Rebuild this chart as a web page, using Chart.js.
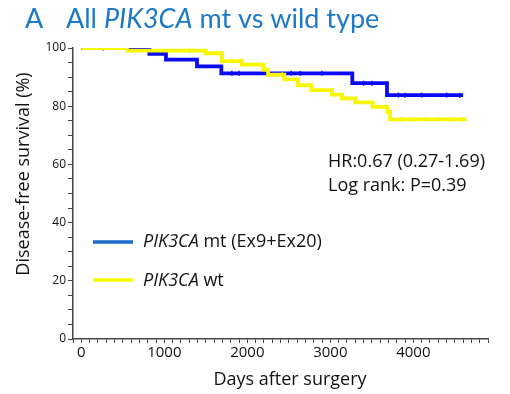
<!DOCTYPE html>
<html>
<head>
<meta charset="utf-8">
<script src="https://cdn.jsdelivr.net/npm/chart.js@4"></script>
<style>
  html, body { margin: 0; padding: 0; background: #fff; }
  #wrap { width: 510px; height: 394px; position: relative; }
</style>
</head>
<body>
<div id="wrap"><canvas id="kmChart"></canvas></div>
<script>
// Kaplan-Meier step points (days, survival %)
const mtDays = [0, 820, 1020, 1394, 1687, 3265, 3683, 4600];
const mtSurv = [100, 98, 96, 93.7, 91.3, 87.9, 83.8, 83.8];
const wtDays = [0, 550, 1494, 1695, 1936, 2193, 2250, 2446, 2611, 2771, 3020, 3140, 3300, 3510, 3690, 3720, 4640];
const wtSurv = [100, 99.1, 98.2, 95.5, 94.3, 92.6, 90.8, 89.2, 87.2, 85.5, 84, 82.7, 81.3, 79.8, 78, 75.5, 75.5];

// censor marks
const mtCensorDays = [265, 1815, 1900, 2530, 2640, 2900, 3400, 3500, 3820, 3900, 4100, 4400, 4560];
const mtCensorSurv = [100, 91.3, 91.3, 91.3, 91.3, 91.3, 87.9, 87.9, 83.8, 83.8, 83.8, 83.8, 83.8];
const wtCensorDays = [450, 1300, 1815, 1915, 2420, 3200, 3850, 4000, 4150, 4300, 4450, 4600];
const wtCensorSurv = [100, 99.1, 95.5, 95.5, 90.8, 82.7, 75.5, 75.5, 75.5, 75.5, 75.5, 75.5];

const yTicks = [0, 20, 40, 60, 80, 100];
const xTicks = [0, 1000, 2000, 3000, 4000];

const plotBlue = '#0a0af5';
const plotYellow = '#f7f700';
const legendBlue = '#1b6cc6';
const titleBlue = '#1d79c6';
const txtFont = '"Open Sans", Lato, sans-serif';
const titleFont = 'Lato, "Open Sans", sans-serif';

function toPoints(xs, ys) {
    return xs.map((x, i) => ({ x: x, y: ys[i] }));
}

// draw a string made of normal / italic pieces
function drawRich(ctx, parts, x, y, size, family, color) {
    ctx.fillStyle = color;
    ctx.textBaseline = 'middle';
    ctx.textAlign = 'left';
    parts.forEach(p => {
        ctx.font = (p.italic ? 'italic ' : '') + size + 'px ' + family;
        ctx.fillText(p.t, x, y);
        x += ctx.measureText(p.t).width;
    });
}

const textPlugin = {
    id: 'kmText',
    afterDraw(chart) {
        const ctx = chart.ctx;
        ctx.save();
        // title
        drawRich(ctx, [{ t: 'A' }], 25, 19, 27, titleFont, titleBlue);
        drawRich(ctx, [{ t: 'All ' }, { t: 'PIK3CA', italic: true }, { t: ' mt vs wild type' }], 66, 19, 27, titleFont, titleBlue);

        // axis titles
        ctx.fillStyle = '#111';
        ctx.font = '18px ' + txtFont;
        ctx.textAlign = 'center';
        ctx.textBaseline = 'middle';
        ctx.fillText('Days after surgery', 290, 380);
        ctx.save();
        ctx.translate(24, 174);
        ctx.rotate(-Math.PI / 2);
        ctx.fillText('Disease-free survival (%)', 0, 0);
        ctx.restore();

        // legend
        ctx.lineWidth = 3.5;
        ctx.strokeStyle = legendBlue;
        ctx.beginPath(); ctx.moveTo(93, 242); ctx.lineTo(133, 242); ctx.stroke();
        ctx.strokeStyle = plotYellow;
        ctx.beginPath(); ctx.moveTo(93, 280); ctx.lineTo(133, 280); ctx.stroke();
        drawRich(ctx, [{ t: 'PIK3CA', italic: true }, { t: ' mt (Ex9+Ex20)' }], 143, 242, 18, txtFont, '#111');
        drawRich(ctx, [{ t: 'PIK3CA', italic: true }, { t: ' wt' }], 143, 281, 18, txtFont, '#111');

        // stats
        drawRich(ctx, [{ t: 'HR:0.67 (0.27-1.69)' }], 328, 162, 18, txtFont, '#111');
        drawRich(ctx, [{ t: 'Log rank: P=0.39' }], 328, 186, 18, txtFont, '#111');
        ctx.restore();
    }
};

const censorStyle = {
    showLine: false,
    pointStyle: 'line',
    rotation: 90,
    pointRadius: 2.5,
    pointBorderWidth: 1.5
};

new Chart(document.getElementById('kmChart'), {
    type: 'line',
    data: {
        datasets: [
            Object.assign({ data: toPoints(wtCensorDays, wtCensorSurv), borderColor: plotYellow, backgroundColor: plotYellow }, censorStyle),
            {
                label: 'PIK3CA wt',
                data: toPoints(wtDays, wtSurv),
                borderColor: plotYellow,
                borderWidth: 3.8,
                stepped: 'before',
                pointRadius: 0,
                fill: false
            },
            Object.assign({ data: toPoints(mtCensorDays, mtCensorSurv), borderColor: plotBlue, backgroundColor: plotBlue }, censorStyle),
            {
                label: 'PIK3CA mt (Ex9+Ex20)',
                data: toPoints(mtDays, mtSurv),
                borderColor: plotBlue,
                borderWidth: 3.8,
                stepped: 'before',
                pointRadius: 0,
                fill: false
            }
        ]
    },
    options: {
        responsive: true,
        maintainAspectRatio: false,
        animation: false,
        layout: { padding: { top: 48, right: 22, left: 0, bottom: 0 } },
        plugins: {
            legend: { display: false },
            tooltip: { enabled: false }
        },
        scales: {
            x: {
                type: 'linear',
                min: -100,
                max: 4900,
                afterFit: s => { s.height = 55; },
                afterBuildTicks: s => {
                    const t = [];
                    for (let v = -100; v <= 4900; v += 100) t.push({ value: v });
                    s.ticks = t;
                },
                ticks: {
                    autoSkip: false,
                    maxRotation: 0,
                    padding: 1,
                    color: '#111',
                    font: { family: txtFont, size: 15 },
                    callback: v => xTicks.includes(v) ? String(v) : ''
                },
                grid: { drawOnChartArea: false, tickLength: 4, tickColor: '#444' },
                border: { color: '#444', width: 1.5 }
            },
            y: {
                min: 0,
                max: 100,
                afterFit: s => { s.width = 73; },
                afterBuildTicks: s => {
                    const t = [];
                    for (let v = 0; v <= 100; v += 5) t.push({ value: v });
                    s.ticks = t;
                },
                ticks: {
                    autoSkip: false,
                    padding: 2,
                    color: '#111',
                    font: { family: txtFont, size: 12 },
                    callback: v => yTicks.includes(v) ? String(v) : ''
                },
                grid: { drawOnChartArea: false, tickLength: 5, tickColor: '#444' },
                border: { color: '#444', width: 1.5 }
            }
        }
    },
    plugins: [textPlugin]
});
</script>
</body>
</html>
